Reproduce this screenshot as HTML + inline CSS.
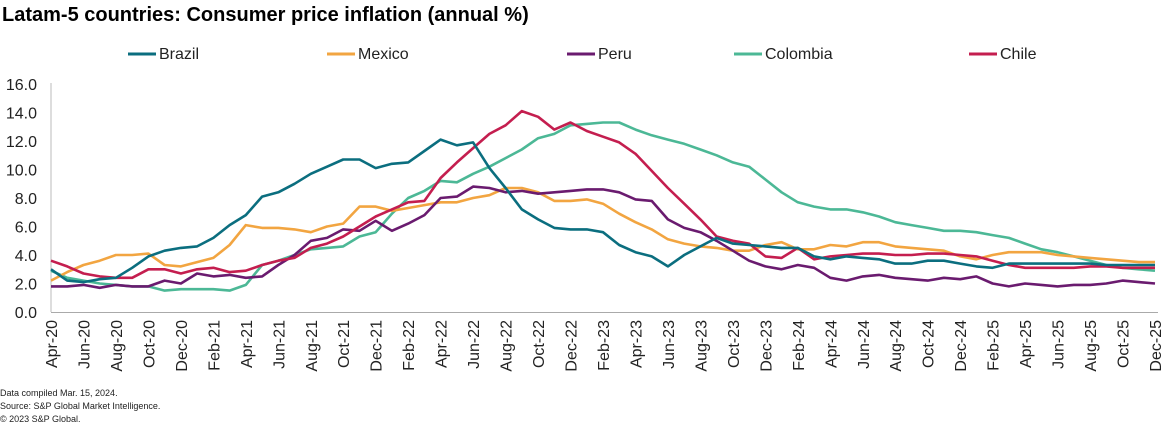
<!DOCTYPE html>
<html><head><meta charset="utf-8"><style>
body{margin:0;background:#fff;width:1163px;height:425px;overflow:hidden;font-family:"Liberation Sans",Arial,sans-serif}
svg text{font-family:"Liberation Sans",Arial,sans-serif}
</style></head><body>
<svg id="c" width="1163" height="425" xmlns="http://www.w3.org/2000/svg">
<text x="2" y="21" font-size="20" font-weight="bold" fill="#000">Latam-5 countries: Consumer price inflation (annual %)</text>
<g font-size="16" fill="#222">
<line x1="128" y1="54" x2="156" y2="54" stroke="#0b6e7f" stroke-width="3"/><text x="159" y="59">Brazil</text>
<line x1="327" y1="54" x2="355" y2="54" stroke="#f2a541" stroke-width="3"/><text x="358" y="59">Mexico</text>
<line x1="567" y1="54" x2="595" y2="54" stroke="#6a1b6f" stroke-width="3"/><text x="598" y="59">Peru</text>
<line x1="734" y1="54" x2="762" y2="54" stroke="#4cb896" stroke-width="3"/><text x="765" y="59">Colombia</text>
<line x1="969" y1="54" x2="997" y2="54" stroke="#c41e4f" stroke-width="3"/><text x="1000" y="59">Chile</text>
</g>
<line x1="51" y1="83" x2="51" y2="312" stroke="#bbb" stroke-width="1"/>
<line x1="51" y1="312.5" x2="1158" y2="312.5" stroke="#aaa" stroke-width="1"/>
<g id="g"></g>
<text x="0" y="396" font-size="9" fill="#222">Data compiled  Mar. 15, 2024.</text>
<text x="0" y="409" font-size="9" fill="#222">Source: S&amp;P Global Market Intelligence.</text>
<text x="0" y="422" font-size="9" fill="#222">© 2023 S&amp;P Global.</text>
</svg>
<script>
var g=document.getElementById('g'),h='';
function Y(v){return 312-v*14.25}
for(var v=0;v<=16;v+=2){h+='<text x="37" y="'+(Y(v)+6)+'" font-size="16" fill="#222" text-anchor="end">'+v.toFixed(1)+'</text>';}
var m=['Jan','Feb','Mar','Apr','May','Jun','Jul','Aug','Sep','Oct','Nov','Dec'];
var step=1104/68;
for(var i=0;i<69;i+=2){var mi=(3+i)%12,yr=20+Math.floor((3+i)/12);var x=51+i*step+6;
h+='<text transform="translate('+x+',320) rotate(-90)" font-size="16" fill="#222" text-anchor="end">'+m[mi]+'-'+yr+'</text>';}
var S={
"#4cb896":[2.9,2.4,2.2,2.0,1.9,1.8,1.8,1.5,1.6,1.6,1.6,1.5,1.9,3.3,3.6,4.0,4.4,4.5,4.6,5.3,5.6,6.9,8.0,8.5,9.2,9.1,9.7,10.2,10.8,11.4,12.2,12.5,13.1,13.2,13.3,13.3,12.8,12.4,12.1,11.8,11.4,11.0,10.5,10.2,9.3,8.4,7.7,7.4,7.2,7.2,7.0,6.7,6.3,6.1,5.9,5.7,5.7,5.6,5.4,5.2,4.8,4.4,4.2,3.9,3.6,3.3,3.1,3.0,2.9],
"#f2a541":[2.2,2.8,3.3,3.6,4.0,4.0,4.1,3.3,3.2,3.5,3.8,4.7,6.1,5.9,5.9,5.8,5.6,6.0,6.2,7.4,7.4,7.1,7.3,7.5,7.7,7.7,8.0,8.2,8.7,8.7,8.4,7.8,7.8,7.9,7.6,6.9,6.3,5.8,5.1,4.8,4.6,4.5,4.3,4.3,4.7,4.9,4.4,4.4,4.7,4.6,4.9,4.9,4.6,4.5,4.4,4.3,3.9,3.7,4.0,4.2,4.2,4.2,4.0,3.9,3.8,3.7,3.6,3.5,3.5],
"#6a1b6f":[1.8,1.8,1.9,1.7,1.9,1.8,1.8,2.2,2.0,2.7,2.5,2.6,2.4,2.5,3.3,4.0,5.0,5.2,5.8,5.7,6.4,5.7,6.2,6.8,8.0,8.1,8.8,8.7,8.4,8.5,8.3,8.4,8.5,8.6,8.6,8.4,7.9,7.8,6.5,5.9,5.6,5.0,4.3,3.6,3.2,3.0,3.3,3.1,2.4,2.2,2.5,2.6,2.4,2.3,2.2,2.4,2.3,2.5,2.0,1.8,2.0,1.9,1.8,1.9,1.9,2.0,2.2,2.1,2.0],
"#c41e4f":[3.6,3.2,2.7,2.5,2.4,2.4,3.0,3.0,2.7,3.0,3.1,2.8,2.9,3.3,3.6,3.8,4.5,4.8,5.3,6.0,6.7,7.2,7.7,7.8,9.4,10.5,11.5,12.5,13.1,14.1,13.7,12.8,13.3,12.7,12.3,11.9,11.1,9.9,8.7,7.6,6.5,5.3,5.0,4.8,3.9,3.8,4.5,3.7,3.9,4.0,4.1,4.1,4.0,4.0,4.1,4.1,4.0,3.9,3.6,3.3,3.1,3.1,3.1,3.1,3.2,3.2,3.1,3.1,3.1],
"#0b6e7f":[3.0,2.2,2.1,2.3,2.4,3.1,3.9,4.3,4.5,4.6,5.2,6.1,6.8,8.1,8.4,9.0,9.7,10.2,10.7,10.7,10.1,10.4,10.5,11.3,12.1,11.7,11.9,10.1,8.7,7.2,6.5,5.9,5.8,5.8,5.6,4.7,4.2,3.9,3.2,4.0,4.6,5.2,4.8,4.7,4.6,4.5,4.5,3.9,3.7,3.9,3.8,3.7,3.4,3.4,3.6,3.6,3.4,3.2,3.1,3.4,3.4,3.4,3.4,3.4,3.4,3.3,3.3,3.3,3.3]
};
for(var c in S){var a=S[c],st=1104/(a.length-1),p=[];for(var i=0;i<a.length;i++)p.push((51+i*st).toFixed(1)+','+Y(a[i]).toFixed(1));
h+='<polyline points="'+p.join(' ')+'" fill="none" stroke="'+c+'" stroke-width="2.6" stroke-linejoin="round"/>';}
g.innerHTML=h;
</script>
</body></html>
